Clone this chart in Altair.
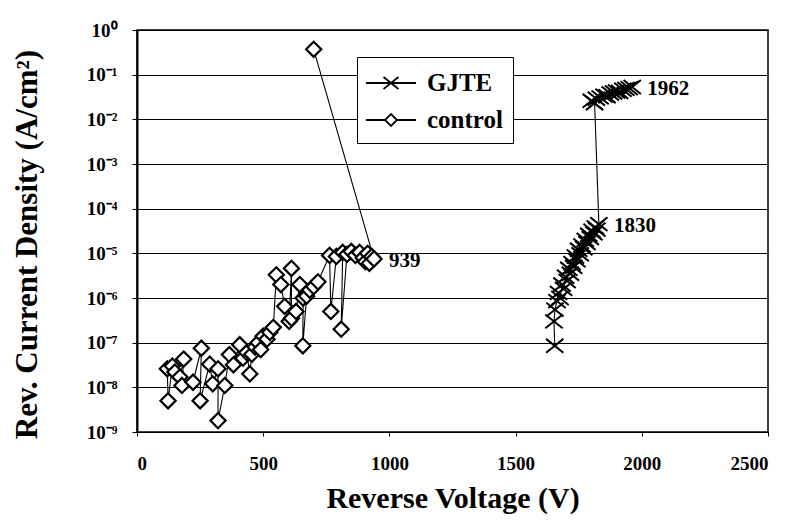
import altair as alt
import pandas as pd

# ---- data ----
series_names = ["GJTE", "control"]

ctrl_v = [120, 123, 140, 150, 170, 185, 178, 222, 255, 250, 288, 300, 321, 321,
          348, 366, 382, 407, 420, 435, 447, 455, 468, 480, 490, 500, 515, 526,
          540, 552, 570, 585, 603, 612, 612, 630, 645, 658, 657, 672, 684, 700,
          717, 763, 768, 790, 815, 809, 832, 849, 865, 882, 896, 905, 914, 921,
          930, 939, 700]
ctrl_j = [2.6e-8, 5.0e-9, 3.0e-8, 2.2e-8, 1.7e-8, 4.3e-8, 1.1e-8, 1.3e-8, 7.5e-8,
          5.0e-9, 3.3e-8, 1.2e-8, 2.6e-8, 1.8e-9, 1.1e-8, 5.4e-8, 3.2e-8, 9.0e-8,
          4.5e-8, 6.0e-8, 2.0e-8, 5.5e-8, 8.0e-8, 1.0e-7, 7.0e-8, 1.4e-7, 1.2e-7,
          1.7e-7, 2.2e-7, 3.3e-6, 2.0e-6, 6.5e-7, 3.0e-7, 4.6e-6, 3.5e-7, 5.0e-7,
          2.0e-6, 1.0e-6, 8.5e-8, 1.1e-6, 1.5e-6, 1.8e-6, 2.3e-6, 9.0e-6, 5.0e-7,
          8.5e-6, 1.05e-5, 2.0e-7, 9.5e-6, 1.1e-5, 9.0e-6, 1.05e-5, 8.0e-6, 6.5e-6,
          1.0e-5, 6.0e-6, 8.5e-6, 7.5e-6, 3.7e-1]

gjte_v = [1655, 1652, 1656, 1664, 1670, 1676, 1684, 1690, 1698, 1704, 1711, 1717,
          1724, 1730, 1737, 1743, 1750, 1756, 1763, 1770, 1776, 1783, 1790, 1796,
          1803, 1810, 1816, 1822, 1830, 1813, 1800, 1820, 1835, 1850, 1862, 1875,
          1888, 1900, 1912, 1925, 1937, 1950, 1962]
gjte_j = [8.5e-8, 3.0e-7, 5.5e-7, 8.5e-7, 1.3e-6, 1.0e-6, 2.0e-6, 1.6e-6, 3.0e-6,
          2.4e-6, 4.5e-6, 3.5e-6, 6.0e-6, 5.0e-6, 8.5e-6, 7.0e-6, 1.2e-5, 9.5e-6,
          1.5e-5, 1.3e-5, 2.0e-5, 1.7e-5, 2.6e-5, 2.2e-5, 3.2e-5, 2.8e-5, 3.8e-5,
          3.4e-5, 4.5e-5, 2.3e-2, 2.6e-2, 2.9e-2, 3.1e-2, 3.4e-2, 3.3e-2, 3.8e-2,
          4.0e-2, 4.2e-2, 4.1e-2, 4.6e-2, 4.8e-2, 5.0e-2, 5.3e-2]

x_ticks = [0, 500, 1000, 1500, 2000, 2500]
y_ticks = [1e0, 1e-1, 1e-2, 1e-3, 1e-4, 1e-5, 1e-6, 1e-7, 1e-8, 1e-9]
y_tick_labels = ["10⁰", "10⁻¹", "10⁻²", "10⁻³", "10⁻⁴", "10⁻⁵", "10⁻⁶",
                 "10⁻⁷", "10⁻⁸", "10⁻⁹"]

ann_text = ["939", "1830", "1962"]
ann_v = [939, 1830, 1962]
ann_j = [7.5e-6, 4.5e-5, 5.3e-2]

# ---- tables ----
rows = []
for i, (v, j) in enumerate(zip(gjte_v, gjte_j)):
    rows.append({"series": "GJTE", "v": v, "j": j, "seq": i})
for i, (v, j) in enumerate(zip(ctrl_v, ctrl_j)):
    rows.append({"series": "control", "v": v, "j": j, "seq": i})
df = pd.DataFrame(rows)
ann = pd.DataFrame({"t": ann_text, "v": ann_v, "j": ann_j})

FONT = "Liberation Serif"
X_PATH = "M-1,-0.8L1,0.8M-1,0.8L1,-0.8"
LEG_X = "M-1.67,0L1.67,0M-0.5,-0.4L0.5,0.4M-0.5,0.4L0.5,-0.4"
LEG_D = "M-1.67,0L-0.4,0M0.4,0L1.67,0M0,-0.4L0.4,0L0,0.4L-0.4,0Z"

label_expr = "[" + ",".join("'%s'" % s for s in y_tick_labels) + \
    "][round(-log(datum.value)/LN10)]"

xenc = alt.X("v:Q", scale=alt.Scale(domain=[0, 2500], nice=False),
             axis=alt.Axis(values=x_ticks, format="d", grid=False,
                           title="Reverse Voltage (V)",
                           labelFont=FONT, labelFontSize=19, labelFontWeight="bold",
                           labelPadding=18, tickSize=4, tickColor="black",
                           domainColor="black", labelColor="black",
                           titleFont=FONT, titleFontSize=30, titleFontWeight="bold",
                           titleColor="black", titlePadding=10))
yenc = alt.Y("j:Q", scale=alt.Scale(type="log", domain=[1e-9, 1], nice=False),
             axis=alt.Axis(values=y_ticks, labelExpr=label_expr, grid=True,
                           gridColor="black", gridWidth=1, gridOpacity=1,
                           title="Rev. Current Density (A/cm²)",
                           labelFont=FONT, labelFontSize=19, labelFontWeight="bold",
                           labelColor="black", labelPadding=15, tickSize=5,
                           tickColor="black", domainColor="black", domainWidth=2,
                           titleFont=FONT, titleFontSize=31, titleFontWeight="bold",
                           titleColor="black", titleX=-110, titleY=214,
                           titleAngle=270, titleAlign="center",
                           titleBaseline="middle"))

base = alt.Chart(df)

line = base.mark_line(color="black", strokeWidth=1.1).encode(
    x=xenc, y=yenc, detail="series:N", order="seq:Q")

ctrl_pts = base.transform_filter(alt.datum.series == "control").mark_point(
    shape="diamond", filled=True, fill="white", stroke="black",
    strokeWidth=2.2, size=230, opacity=1).encode(x="v:Q", y="j:Q")

gjte_pts = base.transform_filter(alt.datum.series == "GJTE").mark_point(
    shape=X_PATH, filled=False, stroke="black", strokeWidth=2, size=300,
    opacity=1).encode(x="v:Q", y="j:Q")

labels = alt.Chart(ann).mark_text(
    align="left", baseline="middle", dx=15, dy=2, font=FONT, fontSize=21,
    fontWeight="bold", color="black").encode(x="v:Q", y="j:Q", text="t:N")

legend_layer = base.mark_point(opacity=0, filled=False, color="black").encode(
    x="v:Q", y="j:Q",
    shape=alt.Shape("series:N",
                    scale=alt.Scale(domain=series_names, range=[LEG_X, LEG_D]),
                    legend=alt.Legend(orient="none", legendX=220, legendY=27,
                                      title=None, strokeColor="black",
                                      fillColor="white", padding=10,
                                      symbolSize=900, symbolStrokeWidth=1.8,
                                      symbolStrokeColor="black",
                                      symbolFillColor="white", symbolOpacity=1,
                                      symbolOffset=8, labelOffset=20,
                                      rowPadding=8, labelFont=FONT,
                                      labelFontSize=25, labelFontWeight="bold",
                                      labelColor="black")))

chart = alt.layer(line, ctrl_pts, gjte_pts, labels, legend_layer).properties(
    width=631, height=402,
    autosize=alt.AutoSizeParams(type="none"),
    padding={"left": 129, "top": 22, "right": 20, "bottom": 85},
    background="white",
).configure_view(stroke="black", strokeWidth=1.5)

chart.save("out.html", embed_options={"renderer": "svg", "actions": False})
